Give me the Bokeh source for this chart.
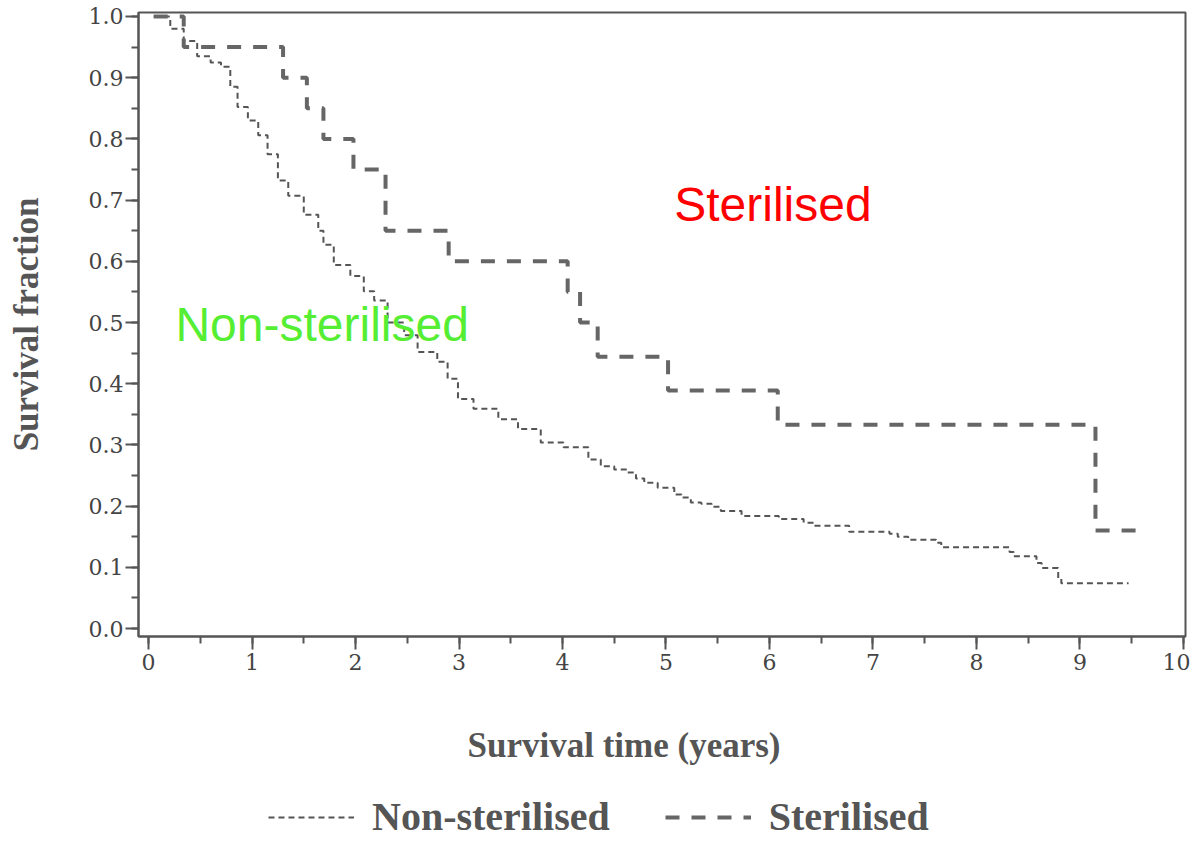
from bokeh.plotting import figure
from bokeh.layouts import column
from bokeh.models import (Range1d, SingleIntervalTicker, PrintfTickFormatter, Label,
                          Legend, LegendItem)
from bokeh.embed import file_html
from bokeh.resources import INLINE

# ---- data ----
nonster_time = [0.05, 0.21, 0.34, 0.47, 0.60, 0.70, 0.79, 0.86, 0.96, 1.06, 1.15, 1.25, 1.35,
                1.50, 1.64, 1.69, 1.79, 1.95, 2.08, 2.18, 2.31, 2.47, 2.60, 2.79, 2.89, 2.99,
                3.14, 3.38, 3.57, 3.79, 4.01, 4.25, 4.37, 4.50, 4.63, 4.71, 4.79, 4.92, 5.08,
                5.15, 5.24, 5.34, 5.44, 5.53, 5.73, 6.09, 6.33, 6.43, 6.77, 7.16, 7.24, 7.34,
                7.61, 7.66, 8.32, 8.36, 8.58, 8.63, 8.79, 8.82, 9.47]
nonster_surv = [1.0, 0.98, 0.96, 0.935, 0.925, 0.918, 0.885, 0.852, 0.83, 0.806, 0.775, 0.732,
                0.707, 0.676, 0.65, 0.627, 0.594, 0.576, 0.551, 0.536, 0.50, 0.479, 0.452,
                0.436, 0.408, 0.375, 0.359, 0.342, 0.326, 0.304, 0.296, 0.276, 0.265, 0.26,
                0.255, 0.245, 0.238, 0.23, 0.219, 0.214, 0.206, 0.204, 0.199, 0.192, 0.184,
                0.179, 0.173, 0.168, 0.158, 0.155, 0.15, 0.145, 0.14, 0.133, 0.125, 0.118,
                0.107, 0.099, 0.082, 0.074, 0.074]

ster_time = [0.05, 0.34, 1.30, 1.53, 1.69, 1.98, 2.29, 2.90, 4.05, 4.17, 4.34, 5.02, 6.08, 9.15, 9.55]
ster_surv = [1.0, 0.95, 0.90, 0.85, 0.80, 0.75, 0.65, 0.60, 0.55, 0.50, 0.444, 0.389, 0.333, 0.16, 0.16]

series_labels = ["Non-sterilised", "Sterilised"]
x_title = "Survival time (years)"
y_title = "Survival fraction"

GREY = "#555555"
NON_STYLE = dict(line_color=GREY, line_width=2, line_dash="6 4")
STER_STYLE = dict(line_color="#666666", line_width=4, line_dash="14 12")

p = figure(width=1190, height=690, output_backend="svg", toolbar_location=None,
           x_range=Range1d(-0.097, 10.02), y_range=Range1d(-0.013, 1.0065),
           min_border_left=138, min_border_top=12, min_border_right=5, min_border_bottom=54,
           background_fill_color="white", border_fill_color="white")
p.xgrid.visible = False
p.ygrid.visible = False
p.outline_line_color = GREY
p.outline_line_width = 2

p.step(nonster_time, nonster_surv, mode="after", **NON_STYLE)
p.step(ster_time, ster_surv, mode="after", **STER_STYLE)

# axes
p.xaxis.ticker = SingleIntervalTicker(interval=1, num_minor_ticks=2)
p.yaxis.ticker = SingleIntervalTicker(interval=0.1, num_minor_ticks=2)
p.yaxis.formatter = PrintfTickFormatter(format="%.1f")
for ax in (p.xaxis[0], p.yaxis[0]):
    ax.axis_line_color = GREY
    ax.axis_line_width = 2
    ax.major_tick_line_color = GREY
    ax.minor_tick_line_color = GREY
    ax.major_tick_line_width = 2
    ax.minor_tick_line_width = 2
    ax.major_tick_in = 0
    ax.major_tick_out = 13
    ax.minor_tick_in = 0
    ax.minor_tick_out = 7
    ax.major_label_text_font = "DejaVu Serif"
    ax.major_label_text_font_size = "22px"
    ax.major_label_text_color = "#444444"
p.xaxis.major_label_standoff = 4
p.yaxis.major_label_standoff = 2

p.yaxis.axis_label = y_title
p.yaxis.axis_label_text_font = "Liberation Serif"
p.yaxis.axis_label_text_font_style = "bold"
p.yaxis.axis_label_text_font_size = "35px"
p.yaxis.axis_label_text_color = GREY
p.yaxis.axis_label_standoff = 40

# in-plot labels
p.add_layout(Label(x=5.08, y=0.692, text="Sterilised", text_font="Liberation Sans",
                   text_font_size="48px", text_color="#ff0000", text_baseline="alphabetic"))
p.add_layout(Label(x=0.26, y=0.497, text="Non-sterilised", text_font="Liberation Sans",
                   text_font_size="48px", text_color="#55ee33", text_baseline="alphabetic"))

# ---- strip below the chart: x-axis title and legend ----
lg = figure(width=1190, height=150, output_backend="svg", toolbar_location=None,
            x_range=Range1d(0, 1), y_range=Range1d(0, 1),
            x_axis_location=None, y_axis_location=None,
            min_border=0, outline_line_color=None,
            background_fill_color="white", border_fill_color="white")
lg.xgrid.visible = False
lg.ygrid.visible = False

lg.add_layout(Label(x=329, y=95, x_units="screen", y_units="screen", text=x_title,
                    text_font="Liberation Serif", text_font_style="bold",
                    text_font_size="35px", text_color=GREY, text_baseline="alphabetic"))

l1 = lg.step(nonster_time, nonster_surv, mode="after", visible=False, **NON_STYLE)
l2 = lg.step(ster_time, ster_surv, mode="after", visible=False, **STER_STYLE)

legend = Legend(items=[LegendItem(label=series_labels[0], renderers=[l1]),
                       LegendItem(label=series_labels[1], renderers=[l2])],
                orientation="horizontal", location=(130, 0),
                border_line_color=None, background_fill_alpha=0,
                inactive_fill_alpha=0,
                label_text_font="Liberation Serif", label_text_font_style="bold",
                label_text_font_size="40px", label_text_color=GREY,
                glyph_width=86, glyph_height=40, label_standoff=18, spacing=55,
                padding=0, margin=0)
lg.add_layout(legend)

open("out.html", "w").write(file_html(column(p, lg, spacing=0), INLINE))
